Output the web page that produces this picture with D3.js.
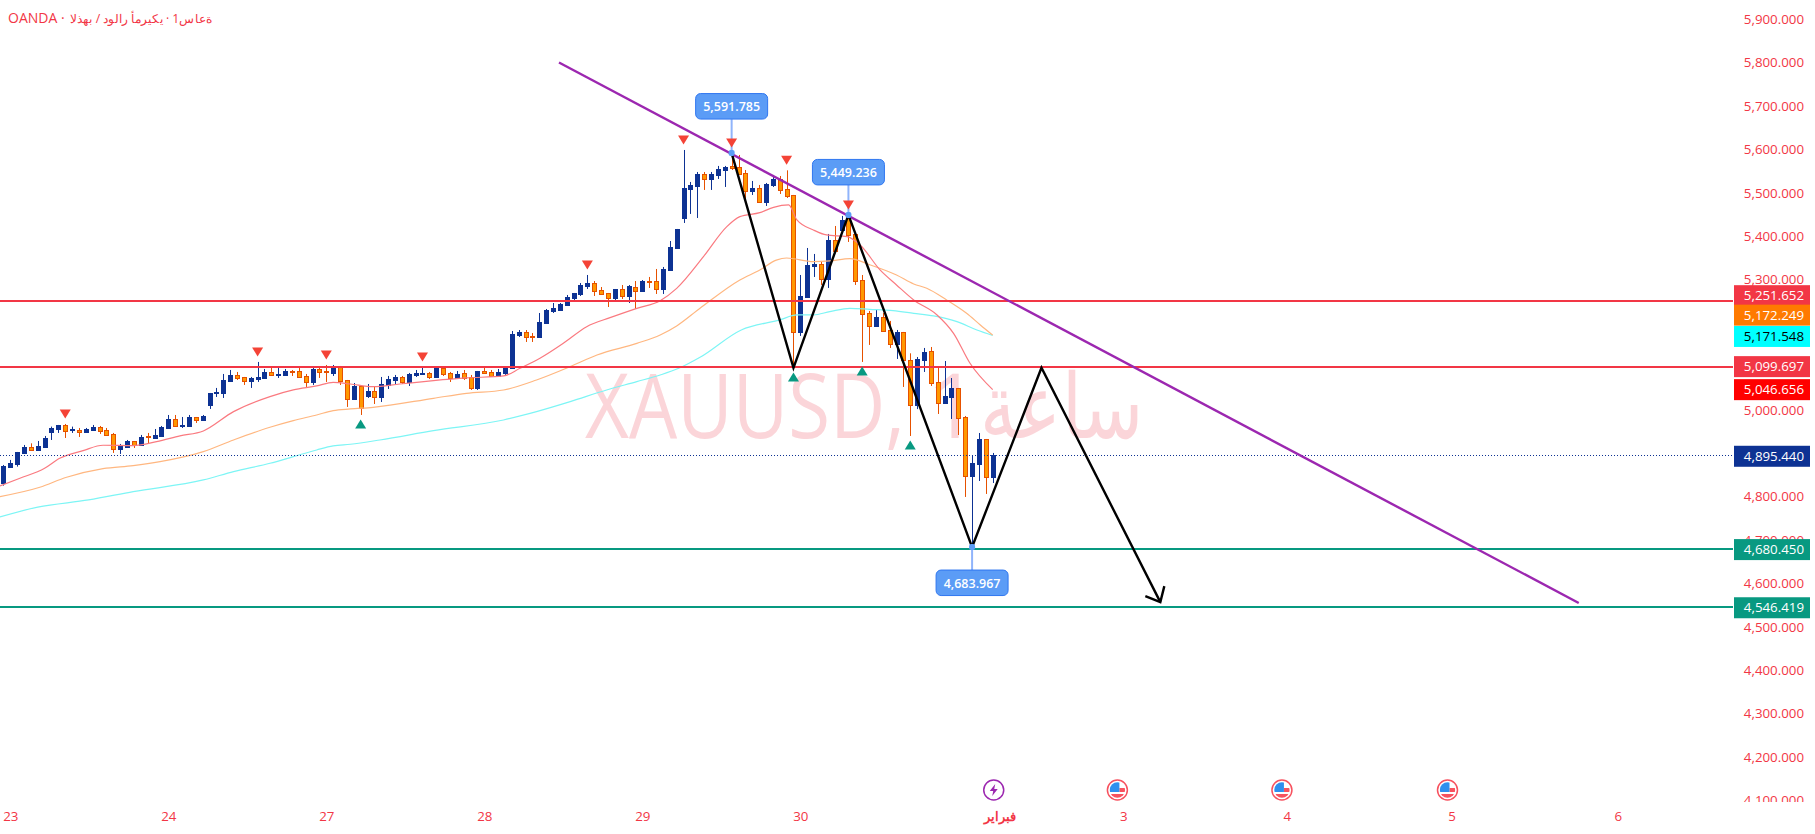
<!DOCTYPE html>
<html>
<head>
<meta charset="utf-8">
<title>XAUUSD</title>
<script src="https://cdn.jsdelivr.net/npm/d3@7"></script>
<style>
  html, body { margin: 0; padding: 0; background: #fff; overflow: hidden; }
  svg { display: block; font-family: "Open Sans", sans-serif; }
  .forced-ltr { direction: ltr; unicode-bidi: bidi-override; }
</style>
</head>
<body>
<svg id="chart" width="1815" height="834"></svg>
<script>
// hourly candles
const opens = [4832.4,4868.5,4875.4,4900.8,4914.6,4907.7,4914.6,4949.2,4956,4965.3,
  4953,4953.8,4949.2,4953.8,4960.7,4953.8,4944.6,4910,4914.6,4928.4,
  4919.2,4940,4935.3,4940,4958.4,4979.1,4963,4963,4983.7,4976.8,
  5011.4,5039,5039,5066.7,5080.5,5075.9,5066.7,5071.3,5073.6,5087.4,
  5080.5,5080.5,5090.5,5089.7,5078.2,5064.4,5094.3,5089.7,5085.1,5099,
  5069,5025.2,5055.1,5032.1,5043.6,5029.8,5057.4,5069,5075.9,5064.3,
  5080.5,5082.8,5085.1,5075.9,5096.6,5085.1,5073.6,5085.1,5075.9,5050.5,
  5089.7,5087.4,5078.2,5085.1,5096.6,5172.6,5179.5,5169.5,5168,5200.3,
  5227.9,5230.2,5241.7,5257.9,5267.1,5285.5,5292.4,5276.3,5269.4,5257.9,
  5278.6,5262.5,5283.2,5274,5297,5297,5278.6,5322.4,5373.1,5442.2,
  5509,5516,5543.6,5532.1,5541.3,5552.8,5562.1,5559.8,5546,5504.5,
  5511.4,5479.1,5518.3,5532.1,5509,5495.3,5179.6,5260.2,5331.7,5336.3,
  5301.7,5391.6,5414.6,5446.9,5405.4,5299.4,5223.4,5193.4,5214.2,5184.2,
  5152,5179.6,5115,5012.1,5115,5135.8,5064.3,5015.2,5029.8,5050.5,
  4983.7,4847.8,4875.4,4933,4845.4];
const closes = [4870.8,4877.7,4903.1,4914.6,4907.7,4916.9,4935.3,4958.4,4965.3,4952.2,
  4955.3,4949.2,4956,4960.7,4951.5,4942.3,4910.8,4916.9,4928.4,4919.2,
  4937.6,4938.4,4942.3,4960.7,4979.1,4963,4964.5,4983.7,4976.8,4986,
  5039,5041.3,5069,5080.5,5073.6,5066.7,5073.6,5075.9,5087.4,5080.5,
  5082.8,5089.7,5089.7,5075.9,5064.4,5094.3,5087.4,5088.2,5099,5066.7,
  5026,5055.1,5004.4,5043.6,5029.8,5059.7,5071.2,5075.9,5064.3,5082.8,
  5085.1,5085.1,5075.9,5096.6,5082.8,5073.6,5082.8,5073.6,5050.5,5089.7,
  5085.1,5078.2,5087.4,5098.9,5174.9,5179.5,5168,5168,5202.6,5230.2,
  5234.8,5244,5260.2,5269.4,5287.8,5292.4,5274,5267.1,5257.9,5278.6,
  5262.5,5285.5,5274,5297,5294.7,5278.6,5324.7,5375.4,5416.9,5511.4,
  5518.3,5543.6,5532.1,5543.6,5555.1,5559.8,5557.4,5543.6,5504.5,5511.4,
  5479.1,5520.6,5532.1,5506.8,5492.9,5179.6,5262.6,5334,5336.3,5301.7,
  5391.6,5366.2,5437.7,5403.1,5297.9,5221.1,5193.4,5214.2,5181.9,5152,
  5179.6,5115.1,5012.1,5117.3,5133.5,5062,5016.7,5032.1,5050.5,4981.4,
  4847.8,4877.7,4933,4845.4,4895.44];
const highs = [4873.1,4884.7,4903.1,4919.2,4923,4928.4,4940,4961.5,4965.3,4967.6,
  4961.5,4958.4,4958.4,4965.3,4963,4958.4,4946.9,4921.5,4930.7,4928.4,
  4942.3,4946.9,4956,4963,4988.3,4988.3,4983.7,4988.3,4983.7,4988.3,
  5039,5050.6,5082.8,5092,5087.4,5075.9,5075.9,5110.5,5094.3,5096.6,
  5096.6,5094.3,5092,5096.6,5082.8,5096.6,5096.6,5103.5,5103.5,5101.2,
  5069,5062,5055.1,5059.7,5052.8,5075.9,5078.2,5080.5,5078.2,5085.1,
  5092,5098.9,5087.4,5098.9,5098.9,5087.4,5089.7,5092,5080.5,5089.7,
  5096.6,5092,5094.3,5098.9,5181.8,5184.1,5184.1,5177.2,5223.3,5232.5,
  5246.3,5246.3,5264.8,5269.4,5292.4,5310.9,5297,5283.2,5269.4,5278.6,
  5287.8,5287.8,5297,5299.3,5306.3,5324.7,5329.3,5389.2,5416.9,5598.9,
  5525.2,5548.2,5548.2,5548.2,5562.1,5562.1,5591.8,5587.4,5552.8,5527.5,
  5518.3,5522.9,5541.3,5539,5552,5495.3,5310.9,5373.1,5359.3,5343.2,
  5405.4,5423.8,5446.9,5449.2,5405.4,5310.9,5228,5230.3,5223.4,5205,
  5184.2,5179.6,5130.4,5121.9,5142.7,5145,5098.9,5112.7,5073.5,5050.5,
  4986,4893.8,4946.8,4933,4900.8];
const lows = [4825.5,4868.5,4869.3,4900.8,4905.4,4907.7,4914.6,4930.7,4946.9,4935.3,
  4946.9,4937.6,4949.2,4953.8,4944.6,4942.3,4900.8,4898.5,4914.6,4912.3,
  4916.9,4921.5,4933,4937.6,4958.4,4960.7,4958.4,4963,4969.9,4976.8,
  5002.2,5029.8,5027.5,5066.7,5069,5057.5,5050.6,5064.4,5073.6,5078.2,
  5073.6,5078.2,5078.2,5075.9,5052.9,5057.5,5073.6,5064.4,5078.2,5057.5,
  5006.8,5025.2,4988.3,5027.5,5013.6,5018.3,5048.2,5059.7,5059.7,5055.1,
  5075.9,5080.5,5071.2,5075.9,5078.2,5064.3,5073.6,5069,5045.9,5045.9,
  5082.8,5075.9,5075.9,5080.5,5096.6,5168,5156.5,5156.5,5168,5200.3,
  5223.3,5230.2,5239.4,5251,5262.5,5278.6,5262.5,5267.1,5237.1,5251,
  5255.6,5246.3,5232.5,5271.7,5280.9,5267.1,5267.1,5320.1,5373.1,5430.7,
  5451.5,5442.2,5506.8,5506.8,5532.1,5513.7,5552.8,5543.6,5483.7,5495.2,
  5479.1,5469.9,5513.7,5497.5,5488.3,5096.7,5170.4,5260.2,5306.3,5287.9,
  5281,5366.2,5414.6,5387,5287.9,5110.5,5149.7,5191.1,5179.6,5142.7,
  5117.4,5052.9,4939.9,5001.8,5087.4,5055.1,4990.6,5013.6,4979.1,4942.2,
  4799.4,4684,4836.2,4806.3,4831.6];

// moving averages, sampled at the bends
const maRedBars = [-0.5,2.4,6,8.2,11.6,14.5,18.9,22.3,25.7,29.1,33.5,38.8,42.2,45.6,48,50.5,53.8,57.7,62.6,67.4,72.8,75.2,78.1,81.5,84.9,88.3,92.2,95.6,98,101.9,105.3,107.2,110.1,112.1,114.3,115.5,117.9,119.8,122.8,124.7,127.6,130,132.5,135.9,138.3,140.7,144];
const maRedValues = [4824.7,4842.4,4865.5,4888.5,4906.2,4918.5,4917.7,4926.9,4940,4951.5,4996,5030.6,5046,5055.2,5063.6,5059.7,5053.6,5059.7,5067.4,5073.6,5078.2,5095.8,5118.9,5153.4,5191.8,5212.5,5234,5251.7,5280.1,5353.2,5422.3,5445.3,5454.5,5466.8,5472.2,5437.7,5414.6,5403.1,5399.3,5380.1,5322.5,5287.9,5253.3,5218.8,5176.5,5107.4,5046.656];
const maOrangeBars = [-0.5,5.3,9.2,14.5,18.9,22.8,29.1,33.5,38.8,42.2,45.6,48,50.5,53.8,62.6,67.4,72.8,77.6,82.5,86.4,92.2,95.6,98,101.4,107.2,110.1,112.5,114,117.9,120.3,123.2,126.2,130,132.5,134.4,137.3,140.2,142.2,144];
const maOrangeValues = [4800.2,4821.7,4844.7,4864.7,4871.6,4880.8,4903.9,4930.7,4960,4975.3,4988.3,4998.3,5002.2,5006,5026.7,5038.2,5045.9,5068.9,5099.7,5126.5,5153.4,5172.6,5193.4,5234.1,5299.4,5322.4,5345,5350,5341.7,5343.2,5348.6,5334,5310.9,5290.2,5280.2,5253.3,5222.6,5195.7,5172.249];
const maCyanBars = [-0.5,5,12.4,18.9,29.1,33.5,38.8,42.2,45.6,48,50.5,54.8,62.6,72.8,77.6,82.5,87.8,92.2,95.6,98.3,101.4,107.4,113,115.5,117.9,120.3,123.2,126.1,129.5,132.5,135.4,138.8,141.7,144];
const maCyanValues = [4753.3,4776,4792.5,4811.7,4838.6,4857.8,4877,4892.3,4907.7,4917,4920.8,4930.7,4952.2,4976.8,4996,5019,5045.9,5065.1,5080.5,5095.8,5121.2,5184.2,5207.3,5218.8,5218.8,5226.5,5234.1,5231.8,5228.8,5222.6,5216.5,5203.4,5184.2,5171.548];

// drawings
const trendBars = [80.87, 229.3];
const trendPrices = [5800.5, 4555.2];
const zigzagBars = [106, 115, 123, 141, 151.1, 168.4];
const zigzagPrices = [5591.8, 5096.7, 5449.2, 4684, 5097, 4557];

const calloutBars = [106, 123, 141];
const calloutPrices = [5591.785, 5449.236, 4683.967];

const sellMarks = [9, 37, 47, 61, 85, 99, 106, 114, 123];
const buyMarks = [52, 115, 125, 132];

const levelPrices = [5251.652, 5099.697];
const supportPrices = [4680.45, 4546.419];
const lastPrice = 4895.44;

const priceBoxes = [5251.652, 5172.249, 5171.548, 5099.697, 5046.656, 4895.44, 4680.45, 4546.419];
const priceBoxColors = ["#f23645", "#ff7a00", "#00ffff", "#f23645", "#ff0000", "#0d3293", "#089981", "#089981"];
const priceBoxShift = [-5, -20, 1, 0, 0, 1, 1, 1];

// 5,200 5,100 and 4,900 sit under the price boxes
const yTicks = [4100,4200,4300,4400,4500,4600,4700,4800,5000,5300,5400,5500,5600,5700,5800,5900];
const dayBars = [1, 24, 47, 70, 93, 116, 145, 163, 186.8, 210.8, 235];
const dayLabels = ["23", "24", "27", "28", "29", "30", "فبراير", "3", "4", "5", "6"];
const eventBars = [144.15, 162.15, 186.1, 210.2];

const RED = "#f23645";
const BLUE = "#0d3293";
const ORANGE = "#ff9800";
const ORANGE_DARK = "#e65100";
const chartWidth = 1733;
const chartHeight = 802;

const svg = d3.select("#chart");
const x = d3.scaleLinear().domain([0, 144]).range([3.4, 992.7]);
const y = d3.scaleLinear().domain([5900, 4100]).range([19.3, 800.5]);

svg.append("clipPath").attr("id", "pane")
  .append("rect").attr("width", chartWidth).attr("height", chartHeight);
svg.append("clipPath").attr("id", "axisPane")
  .append("rect").attr("width", 1815).attr("height", chartHeight);

const chart = svg.append("g").attr("clip-path", "url(#pane)");

// watermark in three pieces so the gaps match
const watermark = chart.append("g")
  .attr("font-size", 90)
  .attr("fill", "#fbd5d9");
watermark.append("text")
  .attr("x", 585).attr("y", 438)
  .attr("textLength", 320).attr("lengthAdjust", "spacingAndGlyphs")
  .text("XAUUSD,");
watermark.append("text")
  .attr("x", 927).attr("y", 438)
  .text("1");
watermark.append("text")
  .attr("x", 980).attr("y", 438)
  .attr("textLength", 163).attr("lengthAdjust", "spacingAndGlyphs")
  .text("ساعة");

// candles
const bars = d3.range(opens.length);
const isUp = (i) => closes[i] >= opens[i];
const candleX = (i) => Math.round(x(i));

chart.append("g").selectAll("line").data(bars).join("line")
  .attr("x1", (i) => candleX(i) + 0.5).attr("x2", (i) => candleX(i) + 0.5)
  .attr("y1", (i) => y(highs[i])).attr("y2", (i) => y(lows[i]))
  .attr("stroke", (i) => isUp(i) ? BLUE : ORANGE_DARK);

chart.append("g").selectAll("rect").data(bars).join("rect")
  .attr("x", (i) => candleX(i) - 1.5)
  .attr("y", (i) => Math.round(y(Math.max(opens[i], closes[i]))) + 0.5)
  .attr("width", 4)
  .attr("height", (i) => Math.max(1, Math.round(y(Math.min(opens[i], closes[i]))) - Math.round(y(Math.max(opens[i], closes[i])))))
  .attr("fill", (i) => isUp(i) ? BLUE : ORANGE)
  .attr("stroke", (i) => isUp(i) ? BLUE : ORANGE_DARK);

// moving averages
const straight = d3.line().x((d) => x(d[0])).y((d) => y(d[1]));
const maLine = d3.line().x((d) => x(d[0])).y((d) => y(d[1])).curve(d3.curveMonotoneX);
const maSeries = [
  { bars: maCyanBars, values: maCyanValues, color: "#7df5f5" },
  { bars: maOrangeBars, values: maOrangeValues, color: "#ffb780" },
  { bars: maRedBars, values: maRedValues, color: "#fa7a80" },
];
maSeries.forEach((s) => {
  chart.append("path")
    .attr("d", maLine(d3.zip(s.bars, s.values)))
    .attr("fill", "none")
    .attr("stroke", s.color)
    .attr("stroke-width", 1.2);
});

// horizontal levels
const flat = (v) => Math.round(y(v));
chart.selectAll(".level").data(levelPrices.concat(supportPrices)).join("line")
  .attr("class", "level")
  .attr("x1", 0).attr("x2", chartWidth)
  .attr("y1", flat).attr("y2", flat)
  .attr("stroke", (d) => supportPrices.includes(d) ? "#089981" : RED)
  .attr("stroke-width", 2);

chart.append("line")
  .attr("x1", 0).attr("x2", chartWidth)
  .attr("y1", flat(lastPrice) + 0.5).attr("y2", flat(lastPrice) + 0.5)
  .attr("stroke", BLUE)
  .attr("stroke-dasharray", "1,2");

// trend line and projected path
chart.append("line")
  .attr("x1", x(trendBars[0])).attr("y1", y(trendPrices[0]))
  .attr("x2", x(trendBars[1])).attr("y2", y(trendPrices[1]))
  .attr("stroke", "#9c27b0")
  .attr("stroke-width", 2.4);

chart.append("path")
  .attr("d", straight(d3.zip(zigzagBars, zigzagPrices)))
  .attr("fill", "none")
  .attr("stroke", "#000")
  .attr("stroke-width", 2.4);

const tipX = x(zigzagBars[zigzagBars.length - 1]);
const tipY = y(zigzagPrices[zigzagPrices.length - 1]);
chart.append("path")
  .attr("d", `M${tipX - 15},${tipY - 6}L${tipX},${tipY}L${tipX + 4},${tipY - 16}`)
  .attr("fill", "none")
  .attr("stroke", "#000")
  .attr("stroke-width", 2.4);

// price callouts
const calloutGap = [34, 30, -23];
const callout = chart.selectAll(".callout").data(calloutBars).join("g")
  .attr("class", "callout")
  .attr("transform", (b, i) => `translate(${x(b)},${y(calloutPrices[i])})`);

callout.append("line")
  .attr("y2", (b, i) => -calloutGap[i])
  .attr("stroke", "#90b4fb")
  .attr("stroke-width", 2);
callout.append("rect")
  .attr("x", -3).attr("y", -3).attr("width", 6).attr("height", 6).attr("rx", 2)
  .attr("fill", "#5b9cf6");
callout.append("rect")
  .attr("x", -36)
  .attr("y", (b, i) => calloutGap[i] > 0 ? -calloutGap[i] - 25.5 : -calloutGap[i])
  .attr("width", 72).attr("height", 25.5).attr("rx", 5)
  .attr("fill", "#5b9cf6")
  .attr("stroke", "#2f76f0");
callout.append("text")
  .attr("y", (b, i) => (calloutGap[i] > 0 ? -calloutGap[i] - 25.5 : -calloutGap[i]) + 17.5)
  .attr("text-anchor", "middle")
  .attr("font-size", 12.5)
  .attr("font-weight", 600)
  .attr("fill", "#fff")
  .text((b, i) => d3.format(",.3f")(calloutPrices[i]));

// pivot markers
const triangle = (cx, cy, dir) =>
  `M${cx - 5.5},${cy - 4.5 * dir}L${cx + 5.5},${cy - 4.5 * dir}L${cx},${cy + 4.5 * dir}Z`;

chart.selectAll(".sell").data(sellMarks).join("path")
  .attr("class", "sell")
  .attr("d", (i) => triangle(x(i), y(highs[i]) - 10, 1))
  .attr("fill", "#f44336");

chart.selectAll(".buy").data(buyMarks).join("path")
  .attr("class", "buy")
  .attr("d", (i) => triangle(x(i), y(lows[i]) + 9, -1))
  .attr("fill", "#089981");

// title, the platform draws the arabic letters in forced left to right order
svg.append("text")
  .attr("x", 8).attr("y", 23)
  .attr("font-size", 14)
  .attr("fill", RED)
  .text("OANDA ·");
svg.append("text")
  .attr("class", "forced-ltr")
  .attr("x", 70).attr("y", 23)
  .attr("font-size", 12)
  .attr("fill", RED)
  .attr("textLength", 142).attr("lengthAdjust", "spacingAndGlyphs")
  .text("الذهب / دولار أمريكي · 1ساعة");

// price axis
const yAxisG = svg.append("g")
  .attr("clip-path", "url(#axisPane)")
  .append("g")
  .attr("transform", "translate(1804,0)")
  .call(d3.axisRight(y).tickValues(yTicks).tickSize(0).tickPadding(0).tickFormat(d3.format(",.3f")));
yAxisG.select(".domain").remove();
yAxisG.selectAll("text")
  .attr("text-anchor", "end")
  .attr("font-family", "\"Open Sans\", sans-serif")
  .attr("font-size", 13.3)
  .attr("fill", RED);

const boxes = svg.selectAll(".price-box").data(priceBoxes).join("g")
  .attr("class", "price-box")
  .attr("transform", (d, i) => `translate(1734,${y(d) + priceBoxShift[i]})`);
boxes.append("rect")
  .attr("y", -10.5).attr("width", 76).attr("height", 21)
  .attr("fill", (d, i) => priceBoxColors[i]);
boxes.append("text")
  .attr("x", 70).attr("y", 4.7)
  .attr("text-anchor", "end")
  .attr("font-size", 13.3)
  .attr("font-weight", 500)
  .attr("fill", (d, i) => priceBoxColors[i] === "#00ffff" ? "#000" : "#fff")
  .text((d) => d3.format(",.3f")(d));

// time axis
const xAxisG = svg.append("g")
  .attr("transform", "translate(0,812)")
  .call(d3.axisBottom(x).tickValues(dayBars).tickSize(0).tickPadding(0)
    .tickFormat((d, i) => dayLabels[i]));
xAxisG.select(".domain").remove();
xAxisG.selectAll("text")
  .attr("font-family", "\"Open Sans\", sans-serif")
  .attr("font-size", (d, i) => dayLabels[i] === "فبراير" ? 12.5 : 13.3)
  .attr("fill", RED)
  .attr("font-weight", (d, i) => dayLabels[i] === "فبراير" ? 600 : 400);

// economic calendar icons
const iconY = 790;
const bolt = svg.append("g").attr("transform", `translate(${x(eventBars[0])},${iconY})`);
bolt.append("circle").attr("r", 10).attr("fill", "#fff").attr("stroke", "#9c27b0").attr("stroke-width", 1.5);
bolt.append("path").attr("d", "M1.5,-6L-4,1H-0.5L-1.5,6L4,-1H0.5Z").attr("fill", "#9c27b0");

svg.append("clipPath").attr("id", "flagClip").append("circle").attr("r", 7.7);
const flags = svg.selectAll(".flag").data(eventBars.slice(1)).join("g")
  .attr("class", "flag")
  .attr("transform", (d) => `translate(${x(d)},${iconY})`);
flags.append("circle").attr("r", 10).attr("fill", "#fff").attr("stroke", "#f7525f").attr("stroke-width", 1.5);
const flagInner = flags.append("g").attr("clip-path", "url(#flagClip)");
flagInner.append("rect").attr("x", -8).attr("y", -8).attr("width", 16).attr("height", 16).attr("fill", "#fff");
flagInner.append("rect").attr("x", 2).attr("y", -2).attr("width", 6).attr("height", 4).attr("fill", "#f7525f");
flagInner.append("rect").attr("x", -8).attr("y", 4).attr("width", 16).attr("height", 4).attr("fill", "#f7525f");
flagInner.append("rect").attr("x", -8).attr("y", -8).attr("width", 10).attr("height", 10).attr("fill", "#2f8fee");
</script>
</body>
</html>
